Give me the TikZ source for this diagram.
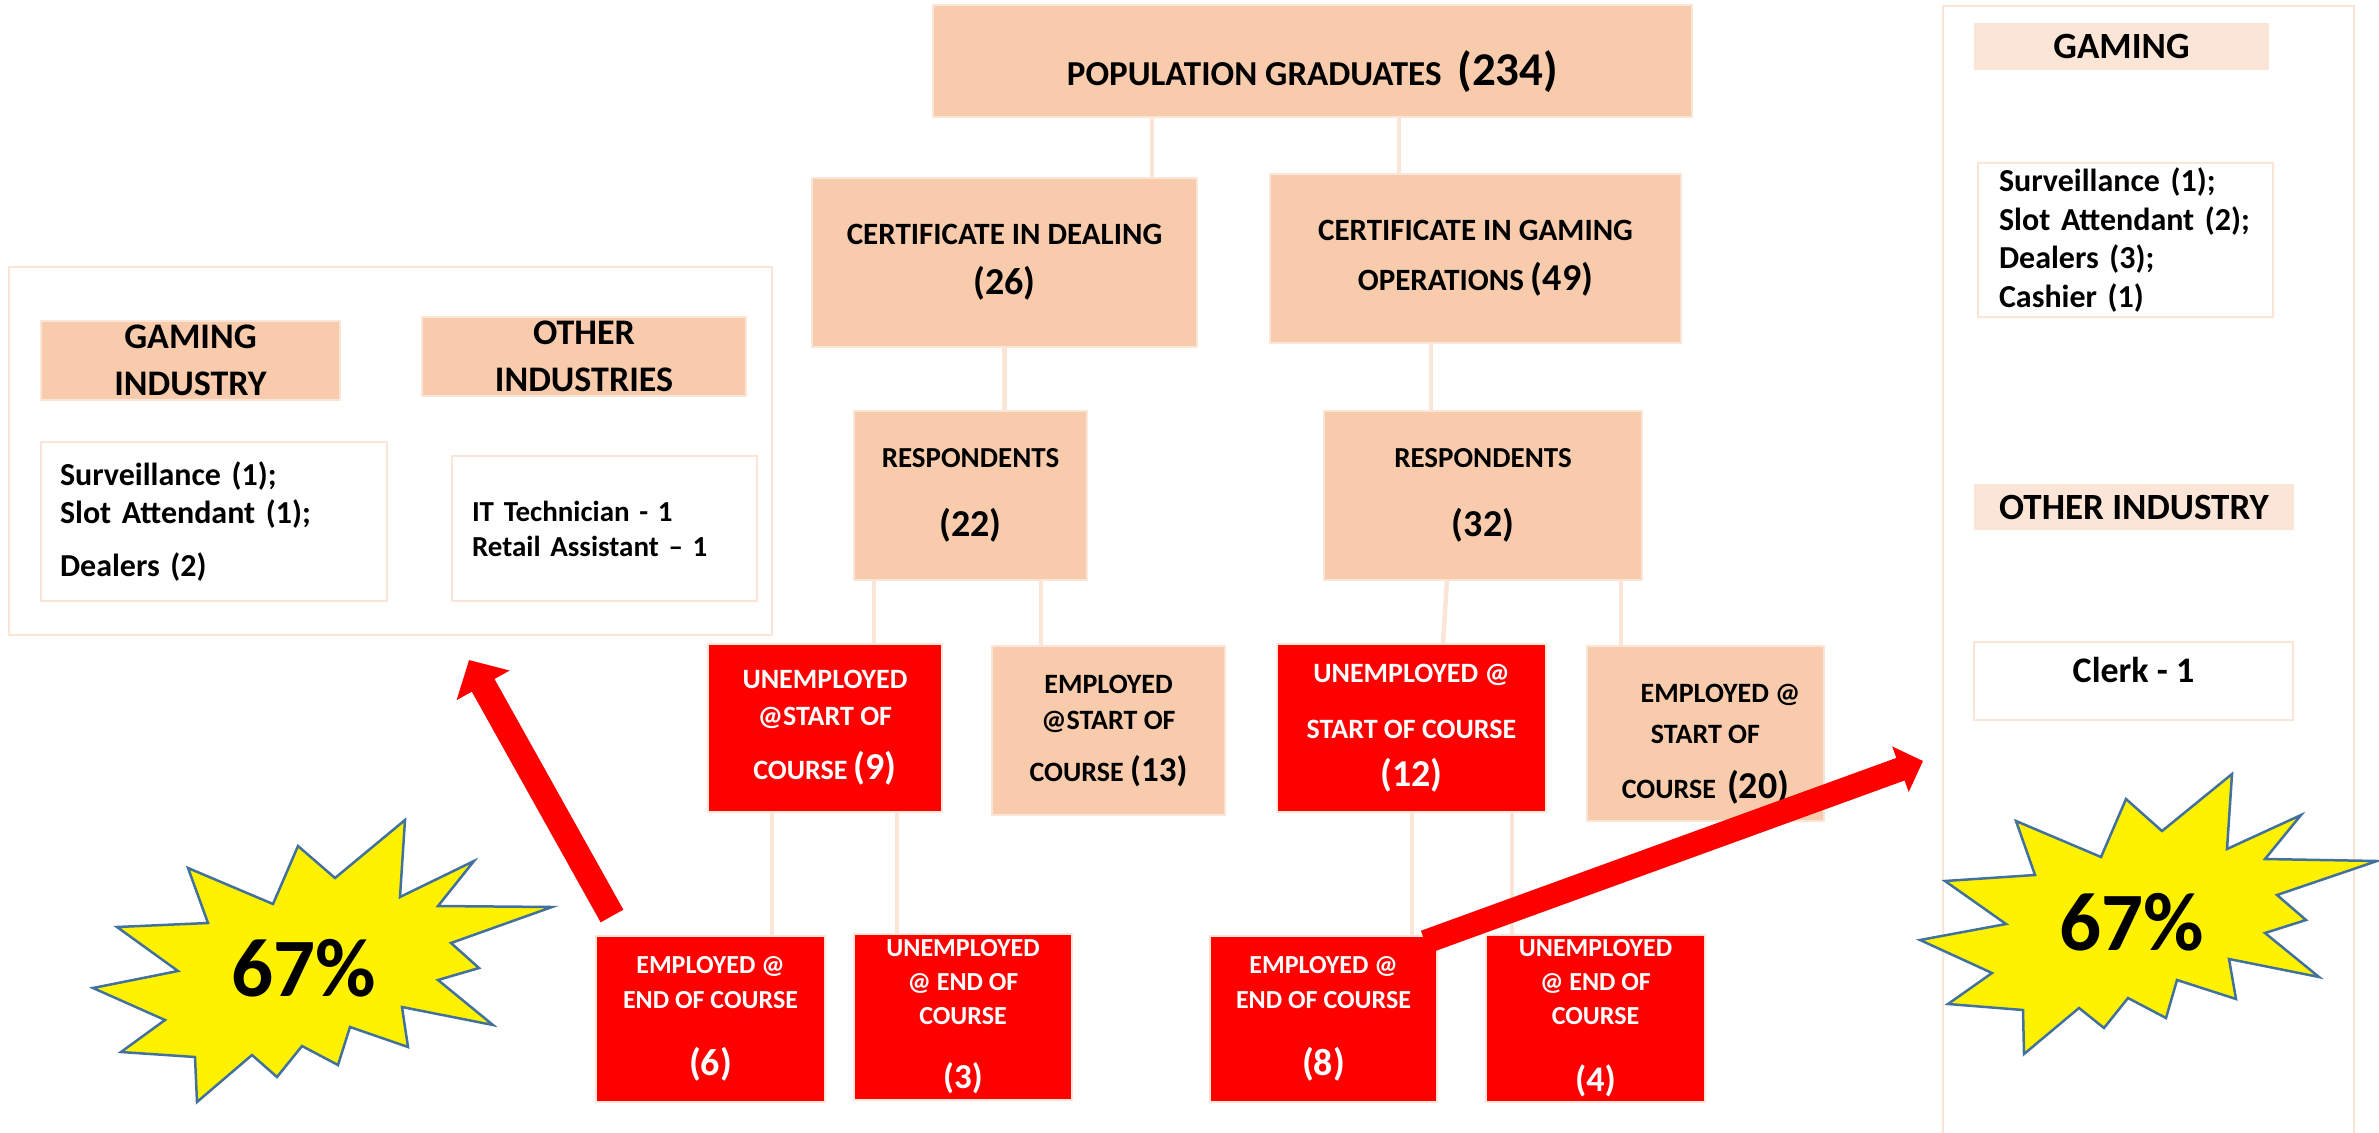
\documentclass[tikz,border=0pt]{standalone}
\usepackage{fontspec}
\setmainfont{Carlito}
\usetikzlibrary{arrows.meta}

\definecolor{peach}{HTML}{F8CBAD}
\definecolor{palepeach}{HTML}{FBE5D6}
\definecolor{boxred}{HTML}{FF0000}
\definecolor{burstblue}{HTML}{41719C}

\newcommand{\setfs}[2]{\fontsize{#1}{#2}\selectfont}
\newcommand{\bignum}[2][38]{{\setfs{#1}{#1}#2}}

\tikzset{
  dims/.style 2 args={minimum width=#1, minimum height=#2},
  fsize/.style 2 args={font=\bfseries\setfs{#1}{#2}},
  box/.style={rectangle, draw=palepeach, line width=2pt, inner sep=0pt, align=center},
  peachbox/.style={box, fill=peach},
  redbox/.style={box, fill=boxred, text=white},
  listbox/.style={box, fill=white, line width=1.5pt, align=left},
  headbox/.style={box, fill=palepeach, draw=none},
  panel/.style={box, line width=1.5pt},
  link/.style={draw=palepeach, line width=4.5pt},
  burst/.style={draw=burstblue, fill=yellow, line width=2.5pt, line join=miter},
  fatarrow/.style={draw=boxred, line cap=butt},
}

\begin{document}
\begin{tikzpicture}[x=1pt, y=-1pt]
    \useasboundingbox (0,0) rectangle (2379,1132);

    % side panels
    \node[panel, dims={763pt}{368pt}] (leftpanel) at (390.5,451) {};
    \node[panel, dims={411pt}{1144pt}] (rightpanel) at (2148.5,578) {};

    % tree of graduates
    \node[peachbox, dims={759pt}{112pt}, fsize={35}{42}, text height=80pt, text depth=32pt] (pop) at (1312.5,61) {POPULATION GRADUATES\ \ \bignum[47]{(234)}};
    \node[peachbox, dims={385pt}{169pt}, fsize={31}{50}] (certD) at (1004.5,262.5) {CERTIFICATE IN DEALING\\\bignum{(26)}};
    \node[peachbox, dims={411pt}{169pt}, fsize={31}{50}] (certG) at (1475.5,258.5) {CERTIFICATE IN GAMING\\OPERATIONS \bignum{(49)}};
    \node[peachbox, dims={233pt}{169pt}, fsize={29}{69}] (respL) at (970.5,495.5) {RESPONDENTS\\\bignum{(22)}};
    \node[peachbox, dims={318pt}{169pt}, fsize={29}{69}] (respR) at (1483,495.5) {RESPONDENTS\\\bignum{(32)}};

    \node[redbox, dims={234pt}{168pt}, fsize={28}{37}] (un9) at (825,728) {UNEMPLOYED\\@START OF\\[17pt]COURSE \bignum{(9)}};
    \node[peachbox, dims={233pt}{169pt}, fsize={28}{36}] (emp13) at (1108.5,730.5) {EMPLOYED\\@START OF\\[16pt]COURSE \bignum[35]{(13)}};
    \node[redbox, dims={269pt}{168pt}, fsize={28}{48}] (un12) at (1411.5,728) {UNEMPLOYED @\\[8pt]START OF COURSE\\\bignum{(12)}};
    \node[peachbox, dims={237pt}{175pt}, fsize={28}{41}] (emp20) at (1705.5,733.5) {\rule{0pt}{39pt}\hspace*{30pt}EMPLOYED @\\START OF\\[14pt]COURSE\ \,\bignum{(20)}};

    \node[redbox, dims={229pt}{166pt}, fsize={26}{35}] (emp6) at (710.5,1019) {EMPLOYED @\\END OF COURSE\\[32pt]\bignum{(6)}};
    \node[redbox, dims={218pt}{166pt}, fsize={26}{34}] (un3) at (963,1017) {UNEMPLOYED\\@ END OF\\COURSE\\[30pt]\bignum[35]{(3)}};
    \node[redbox, dims={227pt}{166pt}, fsize={26}{35}] (emp8) at (1323.5,1019) {EMPLOYED @\\END OF COURSE\\[32pt]\bignum{(8)}};
    \node[redbox, dims={219pt}{167pt}, fsize={26}{34}] (un4) at (1595.5,1018.5) {UNEMPLOYED\\@ END OF\\COURSE\\[33pt]\bignum[36]{(4)}};

    \draw[link] ([xshift=-160.5pt]pop.south) -- ([xshift=147.5pt]certD.north);
    \draw[link] ([xshift=86.5pt]pop.south) -- ([xshift=-76.5pt]certG.north);
    \draw[link] (certD.south) -- ([xshift=34pt]respL.north);
    \draw[link] ([xshift=-44.5pt]certG.south) -- ([xshift=-52pt]respR.north);
    \draw[link] ([xshift=-96.5pt]respL.south) -- ([xshift=49pt]un9.north);
    \draw[link] ([xshift=70.5pt]respL.south) -- ([xshift=-67.5pt]emp13.north);
    \draw[link] ([xshift=-36pt]respR.south) -- ([xshift=31.5pt]un12.north);
    \draw[link] ([xshift=138pt]respR.south) -- ([xshift=-84.5pt]emp20.north);
    \draw[link] ([xshift=-53pt]un9.south) -- ([xshift=61.5pt]emp6.north);
    \draw[link] ([xshift=72pt]un9.south) -- ([xshift=-66pt]un3.north);
    \draw[link] ([xshift=0.5pt]un12.south) -- ([xshift=88.5pt]emp8.north);
    \draw[link] ([xshift=100.5pt]un12.south) -- ([xshift=-83.5pt]un4.north);

    % left panel
    \node[peachbox, line width=1.5pt, dims={299pt}{79pt}, fsize={36}{47}] (gamind) at (190.5,360.5) {GAMING\\INDUSTRY};
    \node[peachbox, line width=1.5pt, dims={324pt}{79pt}, fsize={36}{47}] (othind) at (584,356.5) {OTHER\\INDUSTRIES};
    \node[listbox, dims={346pt}{159pt}, text width=308pt, inner xsep=19pt, fsize={32}{38}] (gamjobsL) at (214,521.5) {Surveillance (1);\\Slot Attendant (1);\\[15pt]Dealers (2)};
    \node[listbox, dims={305pt}{145pt}, text width=265pt, inner xsep=20pt, fsize={29}{35}] (othjobsL) at (604.5,528.5) {IT Technician - 1\\Retail Assistant – 1};

    % right panel
    \node[headbox, dims={295pt}{47pt}, fsize={37}{44}] (gamhead) at (2121.5,46.5) {GAMING};
    \node[listbox, dims={295pt}{154pt}, text width=253pt, inner xsep=21pt, fsize={32}{38.7}] (gamjobsR) at (2125.5,240) {Surveillance (1);\\Slot Attendant (2);\\Dealers (3);\\Cashier (1)};
    \node[headbox, dims={320pt}{46pt}, fsize={37}{44}] (othhead) at (2134,507) {OTHER INDUSTRY};
    \node[listbox, align=center, dims={319pt}{78pt}, fsize={36}{43}, text height=40pt, text depth=38pt] (clerk) at (2133.5,681) {Clerk - 1};

    % stars
    \filldraw[burst] (405,820) -- (400,897) -- (474,861) -- (438,906) -- (552,907) -- (451,943) -- (479,968) -- (438,980) -- (493,1025) -- (402,1007) -- (408,1047) -- (350,1027) -- (338,1065) -- (302,1046) -- (277,1077) -- (252,1055) -- (197,1102) -- (195,1057) -- (121,1052) -- (165,1020) -- (93,988) -- (178,971) -- (117,927) -- (208,923) -- (188,868) -- (273,904) -- (298,846) -- (335,878) -- cycle;
    \node[fsize={83}{83}] (pctL) at (304,968) {67\%};
    \filldraw[burst] (2232,774) -- (2227,849) -- (2301,815) -- (2265,859) -- (2377,861) -- (2277,895) -- (2306,920) -- (2265,933) -- (2319,977) -- (2229,959) -- (2236,999) -- (2177,980) -- (2166,1018) -- (2128,998) -- (2104,1028) -- (2079,1008) -- (2024,1054) -- (2023,1010) -- (1948,1004) -- (1992,973) -- (1920,940) -- (2006,924) -- (1945,881) -- (2035,875) -- (2016,821) -- (2101,857) -- (2126,799) -- (2162,831) -- cycle;
    \node[fsize={83}{83}] (pctR) at (2132,922) {67\%};

    % arrows
    \coordinate (arrLtail) at (612,916);
    \coordinate (arrLtip) at (469,660);
    \draw[fatarrow, line width=26pt, -{Triangle[length=29pt, width=59pt]}] (arrLtail) -- (arrLtip);
    \coordinate (arrRtail) at (1425,942);
    \coordinate (arrRtip) at (1923,761);
    \draw[fatarrow, line width=24pt, -{Triangle[length=24pt, width=47pt]}] (arrRtail) -- (arrRtip);

\end{tikzpicture}
\end{document}
